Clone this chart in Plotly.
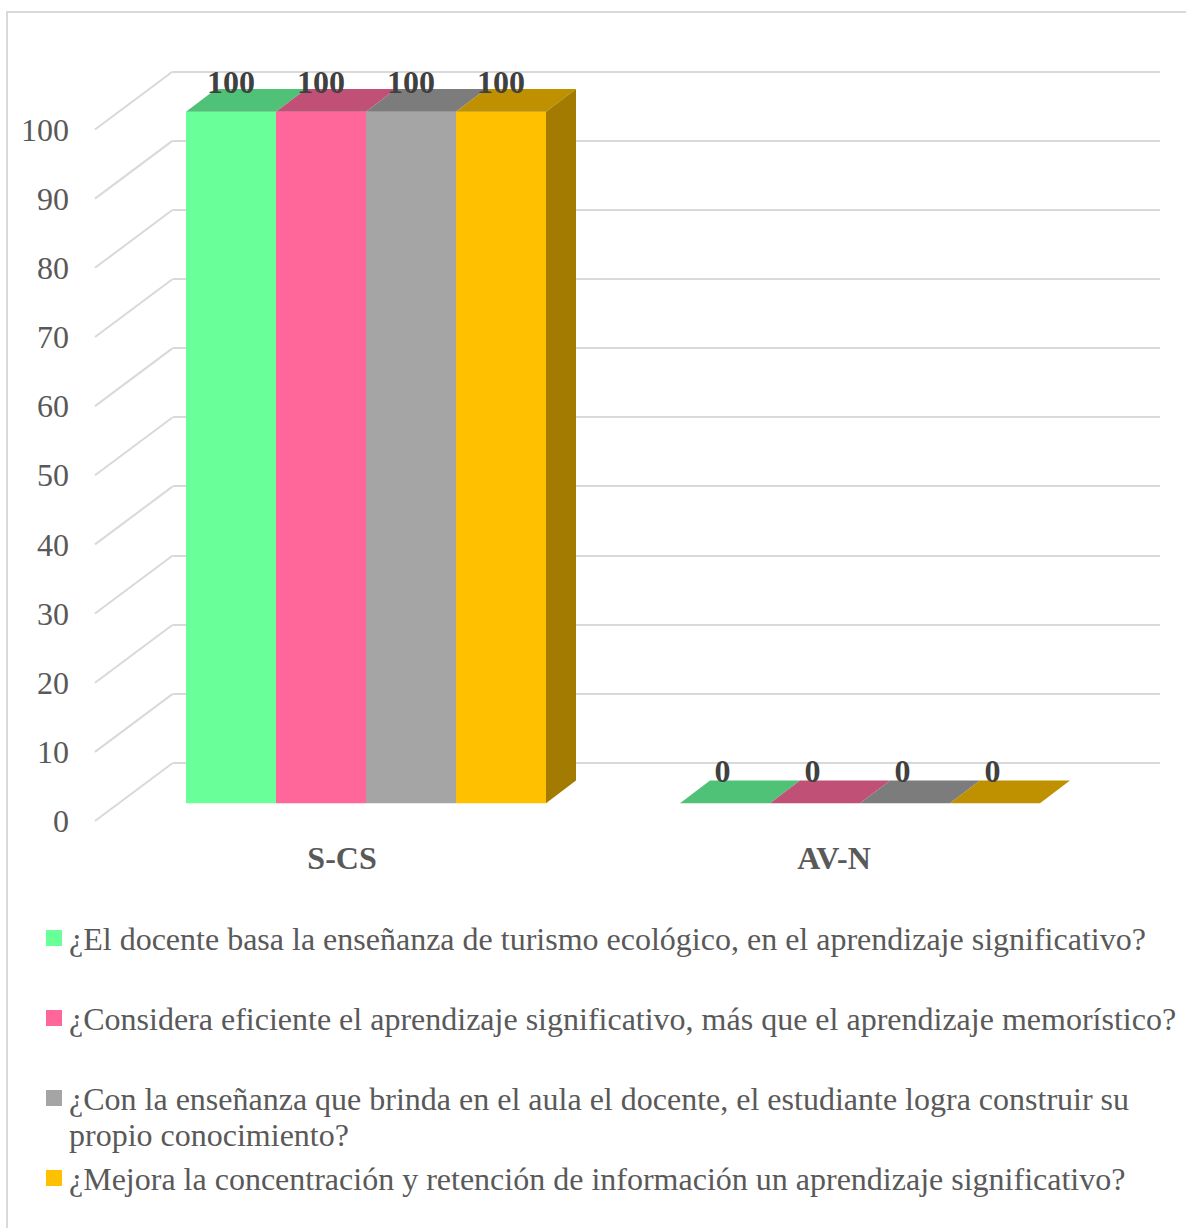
import plotly.graph_objects as go

categories = ["S-CS", "AV-N"]
series_names = [
    "¿El docente basa la enseñanza de turismo ecológico, en el aprendizaje significativo?",
    "¿Considera eficiente el aprendizaje significativo, más que el aprendizaje memorístico?",
    "¿Con la enseñanza que brinda en el aula el docente, el estudiante logra construir su<br>propio conocimiento?",
    "¿Mejora la concentración y retención de información un aprendizaje significativo?",
]
s1_values = [100, 0]
s2_values = [100, 0]
s3_values = [100, 0]
s4_values = [100, 0]
series_values = [s1_values, s2_values, s3_values, s4_values]
front_colors = ["#69FF99", "#FF6699", "#A5A5A5", "#FFC000"]
top_colors = ["#4FC278", "#C05076", "#7C7C7C", "#BF9000"]
side_color = "#A37B00"
axis_ticks = list(range(0, 101, 10))

W, H = 1186, 1228
PX_PER_UNIT = 6.915
X0_PX, X_STEP_PX = 366.0, 494.0
DEPTH_X, DEPTH_Y = 30.0, 22.8
SERIF = "Liberation Serif"
FS = 32


def xv(px):
    return (px - X0_PX) / X_STEP_PX


def ry(zero_px):
    return [(zero_px - H) / PX_PER_UNIT, zero_px / PX_PER_UNIT]


fig = go.Figure()
bar_w = 90.0 / X_STEP_PX
dx = DEPTH_X / X_STEP_PX
dy = DEPTH_Y / PX_PER_UNIT

# back wall subplot (drawn first, so its gridlines stay behind the bars)
fig.add_trace(go.Scatter(x=[0], y=[0], xaxis="x", yaxis="y", mode="none",
                         showlegend=False, hoverinfo="skip"))

# front faces
for name, vals, col in zip(series_names, series_values, front_colors):
    fig.add_trace(go.Bar(x=[0, 1], y=vals, xaxis="x2", yaxis="y2", name=name.replace("<br>", " "),
                         marker=dict(color=col, line=dict(width=0)), showlegend=False))

# top and side faces
for i in range(len(series_values)):
    for g, v in enumerate(series_values[i]):
        x0 = g + (i - 2) * bar_w
        x1 = x0 + bar_w
        fig.add_trace(go.Scatter(
            x=[x0, x1, x1 + dx, x0 + dx, x0], y=[v, v, v + dy, v + dy, v],
            xaxis="x2", yaxis="y2",
            mode="lines", fill="toself", fillcolor=top_colors[i], line=dict(width=0),
            showlegend=False, hoverinfo="skip"))
        if i == len(series_values) - 1 and v > 0:
            fig.add_trace(go.Scatter(
                x=[x1, x1 + dx, x1 + dx, x1, x1], y=[0, dy, v + dy, v, 0],
                xaxis="x2", yaxis="y2",
                mode="lines", fill="toself", fillcolor=side_color, line=dict(width=0),
                showlegend=False, hoverinfo="skip"))

# data labels
label_shift = [0.0, -2.5 / X_STEP_PX]
label_lift = [26.5, 29.0]
for i in range(len(series_values)):
    fig.add_trace(go.Scatter(
        x=[g + (i - 1.5) * bar_w + label_shift[g] for g in range(2)],
        y=[v + label_lift[g] / PX_PER_UNIT for g, v in enumerate(series_values[i])],
        xaxis="x2", yaxis="y2",
        text=[str(v) for v in series_values[i]],
        mode="text", textposition="middle center",
        textfont=dict(family=SERIF, size=FS, color="#404040", weight="bold"),
        showlegend=False, hoverinfo="skip"))

# slanted wall edges, on the axis that carries the value labels
for t in axis_ticks:
    fig.add_trace(go.Scatter(
        x=[xv(95), xv(172.7)], y=[t, t + 58 / PX_PER_UNIT], xaxis="x2", yaxis="y3",
        mode="lines", line=dict(color="#D9D9D9", width=2), showlegend=False, hoverinfo="skip"))

# legend
legend_centers = [(939, 938), (1019, 1018), (1099, 1098), (1179, 1178)]
shapes = [dict(type="rect", xref="paper", yref="paper", x0=7 / W, x1=1.01,
               y0=-0.01, y1=1 - 12 / H, line=dict(color="#D9D9D9", width=2), layer="below")]
annotations = []
for name, col, (ty, sy) in zip(series_names, front_colors, legend_centers):
    shapes.append(dict(type="rect", xref="paper", yref="paper", x0=46 / W, x1=62 / W,
                       y0=1 - (sy + 8) / H, y1=1 - (sy - 8) / H, fillcolor=col, line=dict(width=0)))
    for k, line in enumerate(name.split("<br>")):
        annotations.append(dict(text=line, xref="paper", yref="paper", x=67 / W,
                                y=1 - (ty + 36 * k) / H, xanchor="left", yanchor="middle",
                                showarrow=False,
                                font=dict(family=SERIF, size=FS, color="#595959")))

fig.update_layout(
    width=W, height=H, margin=dict(l=0, r=0, t=0, b=0, pad=0),
    paper_bgcolor="#FFFFFF", plot_bgcolor="rgba(0,0,0,0)",
    barmode="group", bargap=1 - 4 * bar_w, bargroupgap=0, showlegend=False,
    shapes=shapes, annotations=annotations,
    xaxis=dict(domain=[172.7 / W, 1160 / W], range=[0, 1], visible=False, anchor="y"),
    yaxis=dict(domain=[0, 1], range=ry(763), anchor="x", tickmode="array", tickvals=axis_ticks,
               showticklabels=False, ticks="", showline=False, zeroline=False,
               showgrid=True, gridcolor="#D9D9D9", gridwidth=2),
    xaxis2=dict(domain=[0, 1], range=[xv(0), xv(W)], anchor="free", position=1 - 836 / H,
                tickmode="array", tickvals=[xv(342), xv(834)], ticktext=categories,
                ticks="", showline=False, showgrid=False, zeroline=False,
                tickfont=dict(family=SERIF, size=FS, color="#595959", weight="bold")),
    yaxis2=dict(domain=[0, 1], range=ry(803.3), visible=False, showgrid=False, zeroline=False,
                anchor="x2"),
    yaxis3=dict(domain=[0, 1], range=ry(821), anchor="free", position=69 / W,
                tickmode="array", tickvals=axis_ticks, ticks="", showline=False,
                showgrid=False, zeroline=False,
                tickfont=dict(family=SERIF, size=FS, color="#595959")),
)

fig.write_html("out.html", post_script="document.body.style.margin='0';", config={"displayModeBar": False})
